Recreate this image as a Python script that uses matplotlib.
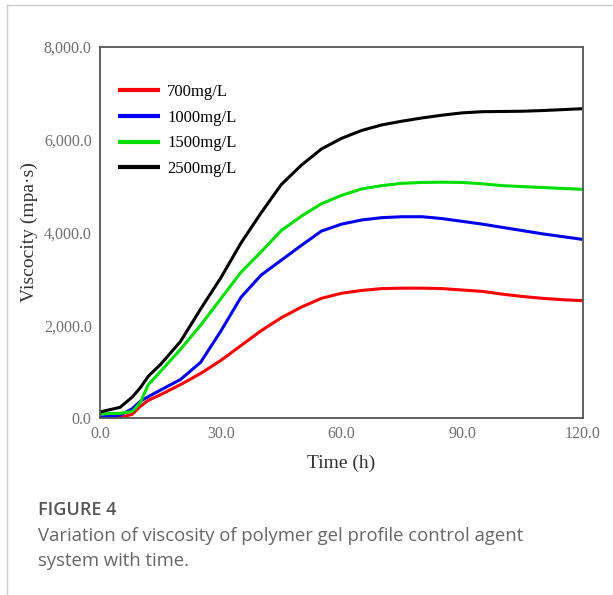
import matplotlib.pyplot as plt
from matplotlib.lines import Line2D

t = [0, 5, 8, 10, 12, 15, 20, 25, 30, 35, 40, 45, 50, 55, 60, 65, 70, 75, 80, 85, 90, 95, 100, 105, 110, 115, 120]
v700 = [0, 10, 80, 250, 380, 500, 720, 960, 1240, 1560, 1880, 2160, 2390, 2580, 2690, 2750, 2790, 2800, 2800, 2790, 2760, 2730, 2670, 2620, 2580, 2550, 2530]
v1000 = [20, 60, 200, 360, 460, 600, 830, 1200, 1870, 2600, 3080, 3400, 3720, 4030, 4180, 4270, 4320, 4340, 4340, 4300, 4240, 4180, 4110, 4040, 3970, 3910, 3850]
v1500 = [90, 100, 140, 330, 720, 1000, 1480, 2000, 2570, 3140, 3580, 4040, 4350, 4620, 4800, 4940, 5010, 5060, 5080, 5085, 5080, 5050, 5010, 4990, 4970, 4950, 4930]
v2500 = [130, 230, 450, 650, 900, 1150, 1650, 2350, 3020, 3770, 4420, 5030, 5450, 5800, 6030, 6200, 6320, 6400, 6470, 6530, 6580, 6605, 6610, 6615, 6630, 6650, 6670]

labels = ["700mg/L", "1000mg/L", "1500mg/L", "2500mg/L"]
colors = ["#ff0000", "#0000ee", "#00dd00", "#000000"]
xticks = [0, 30, 60, 90, 120]
yticks = [0, 2000, 4000, 6000, 8000]

fig = plt.figure(figsize=(6.13, 5.95), dpi=100)
ax = fig.add_axes([0.1631, 0.2975, 0.788, 0.6235])

for vals, c, lab in zip([v700, v1000, v1500, v2500], colors, labels):
    ax.plot(t, vals, color=c, lw=2.2, label=lab, solid_capstyle="butt")

ax.set_xlim(0, 120)
ax.set_ylim(0, 8000)
ax.set_xticks(xticks)
ax.set_xticklabels([f"{x:.1f}" for x in xticks])
ax.set_yticks(yticks)
ax.set_yticklabels([f"{y:,.1f}" for y in yticks])
ax.tick_params(length=0, pad=6, labelsize=11.5, labelcolor="#707070")
for lbl in ax.get_xticklabels() + ax.get_yticklabels():
    lbl.set_family("Liberation Serif")
for s in ax.spines.values():
    s.set_color("#555555")
    s.set_linewidth(1.3)

ax.set_xlabel("Time (h)", family="Liberation Serif", fontsize=14, color="#333333", labelpad=9)
ax.set_ylabel("Viscocity (mpa·s)", family="Liberation Serif", fontsize=14, color="#333333", labelpad=4)

ax.legend(loc="upper left", frameon=False, prop={"family": "Liberation Serif", "size": 12},
          handlelength=2.5, handletextpad=0.45, labelspacing=0.58, borderaxespad=1.0,
          bbox_to_anchor=(-0.011, 0.963))
for h in ax.get_legend().get_lines():
    h.set_linewidth(3)

# card border
fig.add_artist(Line2D([7 / 613, 1], [1 - 5 / 595, 1 - 5 / 595], color="#cccccc", lw=1))
fig.add_artist(Line2D([7 / 613, 7 / 613], [0, 1 - 5 / 595], color="#cccccc", lw=1))

fig.text(38 / 613, 1 - 510 / 595, "FIGURE 4", family="Open Sans", fontsize=13, color="#555555",
         va="center", fontweight="semibold")
fig.text(38 / 613, 1 - 536 / 595, "Variation of viscosity of polymer gel profile control agent",
         family="Open Sans", fontsize=13.3, color="#666666", va="center")
fig.text(38 / 613, 1 - 561 / 595, "system with time.",
         family="Open Sans", fontsize=13.3, color="#666666", va="center")

fig.savefig("out.png", dpi=100)
